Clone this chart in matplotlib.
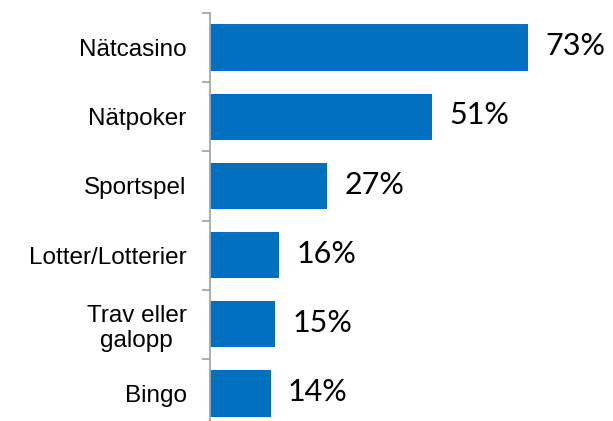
import numpy as np
import matplotlib.pyplot as plt

# data
categories = ['Nätcasino', 'Nätpoker', 'Sportspel', 'Lotter/Lotterier',
              'Trav eller\ngalopp', 'Bingo']
values = [73, 51, 27, 16, 15, 14]
value_labels = ['73%', '51%', '27%', '16%', '15%', '14%']

bar_color = '#0070C0'
axis_color = '#A6A6A6'

fig = plt.figure(figsize=(6.13, 4.21), dpi=100)
# axes box in pixels: left 209.5, top 13, bottom 428 (runs off the image)
W, H = 613, 421
ax = fig.add_axes([209.5 / W, 1 - 428 / H, 393 / W, (428 - 13) / H])

pos = np.arange(len(categories))
ax.barh(pos, values, height=0.67, color=bar_color)
ax.set_ylim(len(categories) - 0.5, -0.5)
ax.set_xlim(0, 90)

for p, v, lab in zip(pos, values, value_labels):
    ax.annotate(lab, (v, p), xytext=(12.5, 1), textcoords='offset points',
                ha='left', va='center', fontsize=22, family='Lato',
                color='black')

ax.set_yticks(pos)
ax.set_yticklabels(categories, fontsize=17.5, family='Liberation Sans',
                   ha='right', multialignment='center', linespacing=1.2)
ax.tick_params(axis='y', which='major', length=0, pad=16.5)
ax.set_yticks(np.arange(len(categories) + 1) - 0.5, minor=True)
ax.tick_params(axis='y', which='minor', length=6, width=1.3,
               color=axis_color, direction='out')
ax.set_xticks([])

for s in ['top', 'right', 'bottom']:
    ax.spines[s].set_visible(False)
ax.spines['left'].set_color(axis_color)
ax.spines['left'].set_linewidth(1.3)

fig.savefig('out.png', dpi=100)
